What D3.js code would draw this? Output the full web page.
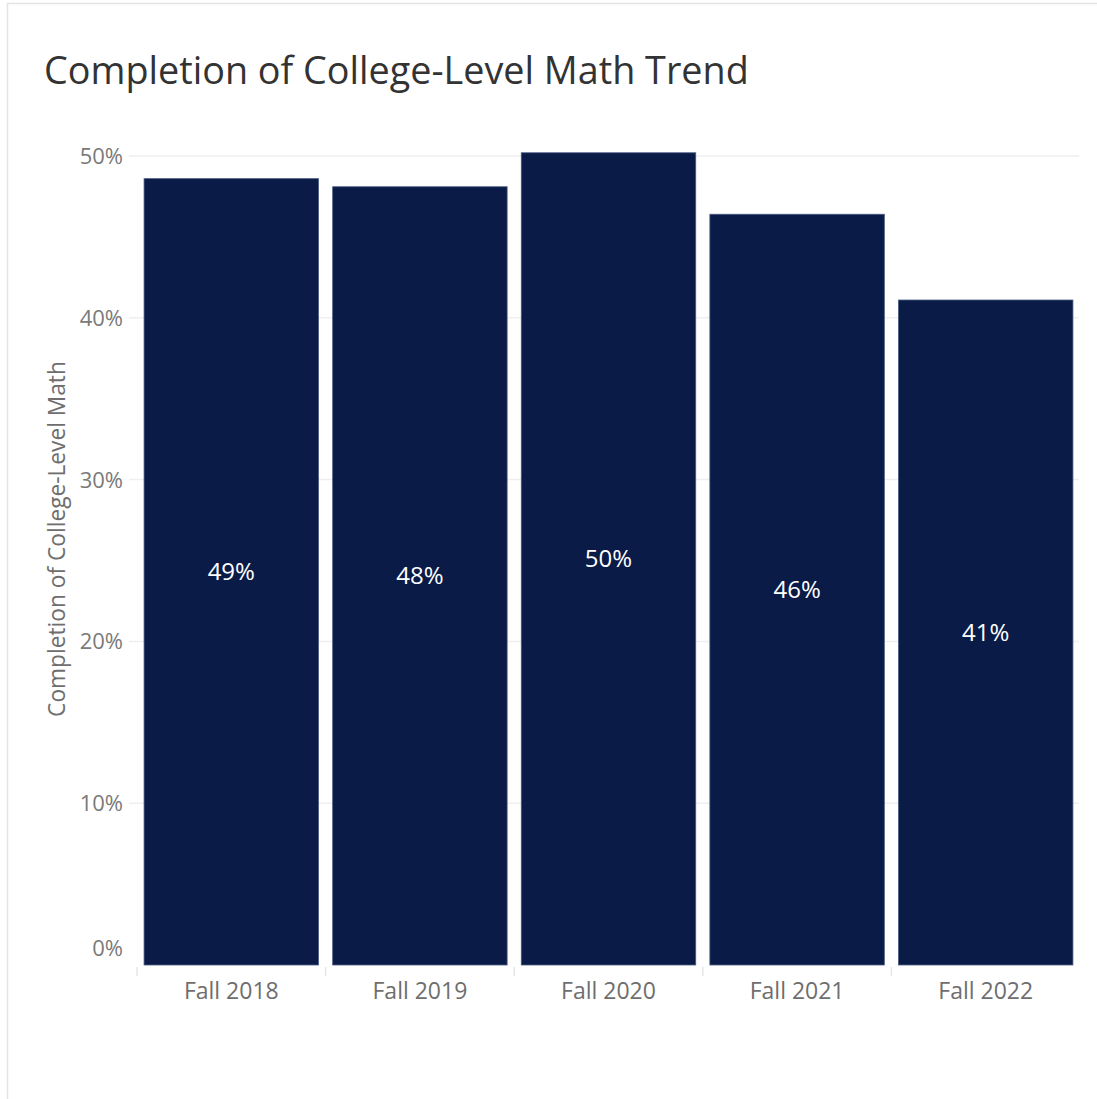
<!DOCTYPE html>
<html>
<head>
<meta charset="utf-8">
<script src="https://cdn.jsdelivr.net/npm/d3@7"></script>
<style>
  html, body { margin: 0; padding: 0; background: #fff; }
  svg { display: block; }
</style>
</head>
<body>
<svg id="chart" width="1097" height="1099"></svg>
<script>
// Completion of college-level math by entering fall cohort
const chartTitle = "Completion of College-Level Math Trend";
const yAxisTitle = "Completion of College-Level Math";
const terms = ["Fall 2018", "Fall 2019", "Fall 2020", "Fall 2021", "Fall 2022"];
const completionRate = [0.486, 0.481, 0.502, 0.464, 0.411];
const valueLabels = ["49%", "48%", "50%", "46%", "41%"];
const yTicks = [0, 0.1, 0.2, 0.3, 0.4, 0.5];

const W = 1097, H = 1099;
const svg = d3.select("#chart");
const font = "'Open Sans', 'Noto Sans', sans-serif";

// scale a text element's font so it spans the given width
function fitWidth(sel, size, width) {
  sel.attr("font-size", size);
  const w = sel.node().getComputedTextLength();
  sel.attr("font-size", size * width / w);
}

// outer frame
svg.append("rect")
  .attr("x", 7.5).attr("y", 3.5)
  .attr("width", W).attr("height", H)
  .attr("fill", "none").attr("stroke", "#e4e4e4").attr("stroke-width", 1.5);

// title
const title = svg.append("text")
  .attr("x", 44).attr("y", 84)
  .attr("font-family", font)
  .attr("fill", "#333")
  .text(chartTitle);
fitWidth(title, 34, 705);

const plot = { left: 137, right: 1080, top: 100, bottom: 965 };

const x = d3.scaleBand()
  .domain(terms)
  .range([plot.left, plot.right])
  .paddingInner(0.075)
  .paddingOuter(0.0375);

const y = d3.scaleLinear()
  .domain([0, 0.5])
  .range([plot.bottom, plot.bottom - 809]);

// horizontal gridlines
svg.append("g")
  .selectAll("line")
  .data(yTicks.filter(d => d > 0))
  .join("line")
  .attr("x1", 129).attr("x2", 1079)
  .attr("y1", d => y(d)).attr("y2", d => y(d))
  .attr("stroke", "#efefef").attr("stroke-width", 1.5);

// y axis tick labels
const yAxis = d3.axisLeft(y)
  .tickValues(yTicks)
  .tickFormat(d3.format(".0%"))
  .tickSize(0)
  .tickPadding(0);
const gy = svg.append("g")
  .attr("transform", "translate(123,0)")
  .call(yAxis);
gy.select(".domain").remove();
gy.selectAll("text")
  .attr("font-family", font).attr("font-size", 22)
  .attr("fill", "#7a7a7a")
  .attr("dy", d => d === 0 ? "-0.45em" : "0.34em");

// y axis title
const yTitle = svg.append("text")
  .attr("transform", `translate(65,${(360 + 718) / 2}) rotate(-90)`)
  .attr("text-anchor", "middle")
  .attr("font-family", font)
  .attr("fill", "#6e6e6e")
  .text(yAxisTitle);
fitWidth(yTitle, 17, 356);

// bars
svg.append("g")
  .selectAll("rect")
  .data(terms)
  .join("rect")
  .attr("x", d => x(d))
  .attr("width", x.bandwidth())
  .attr("y", (d, i) => y(completionRate[i]))
  .attr("height", (d, i) => y(0) - y(completionRate[i]))
  .attr("fill", "#0a1b48")
  .attr("stroke", "#4a5a80").attr("stroke-width", 0.8);

// value labels in bar middle
svg.append("g")
  .selectAll("text")
  .data(terms)
  .join("text")
  .attr("x", d => x(d) + x.bandwidth() / 2)
  .attr("y", (d, i) => (y(completionRate[i]) + y(0)) / 2)
  .attr("dy", "0.35em")
  .attr("text-anchor", "middle")
  .attr("font-family", font).attr("font-size", 24)
  .attr("fill", "#ffffff")
  .text((d, i) => valueLabels[i]);

// x axis: category labels and column separators
const xAxis = d3.axisBottom(x).tickSize(0).tickPadding(0);
const gx = svg.append("g")
  .attr("transform", `translate(0,${plot.bottom})`)
  .call(xAxis);
gx.select(".domain").remove();
gx.selectAll("text")
  .attr("font-family", font).attr("font-size", 23)
  .attr("fill", "#6e6e6e")
  .attr("dy", "0")
  .attr("y", 34);

const step = x.step();
svg.append("g")
  .selectAll("line")
  .data(d3.range(terms.length))
  .join("line")
  .attr("x1", i => plot.left + i * step).attr("x2", i => plot.left + i * step)
  .attr("y1", plot.bottom + 2).attr("y2", plot.bottom + 11)
  .attr("stroke", "#e6e6e6").attr("stroke-width", 1.5);
</script>
</body>
</html>
